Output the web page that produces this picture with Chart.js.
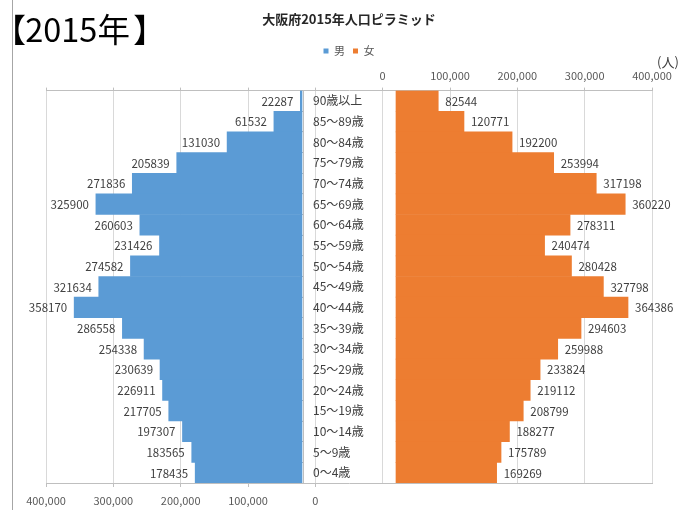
<!DOCTYPE html>
<html><head><meta charset="utf-8">
<script src="https://cdn.jsdelivr.net/npm/chart.js@4.4.0/dist/chart.umd.min.js"></script>
<style>
html,body{margin:0;padding:0;background:#fff;}
#wrap{position:relative;width:685px;height:510px;overflow:hidden;background:#fff;}
canvas{position:absolute;left:0;top:0;}
#frame{position:absolute;left:12px;top:0;width:1px;height:510px;background:#a6a6a6;}
#year{position:absolute;left:9px;top:8px;font-family:"Noto Sans CJK JP";font-size:32.5px;line-height:1.2;font-feature-settings:"palt";color:#000;white-space:nowrap;}
#year .close{margin-left:4px;}
#unit{position:absolute;left:657px;top:54px;font-family:"Noto Sans CJK JP";font-size:13px;line-height:1.2;color:#404040;white-space:nowrap;}
</style></head><body>
<div id="wrap">
<canvas id="c" width="685" height="510"></canvas>
<div id="frame"></div>
<div id="year">【2015年<span class="close">】</span></div>
<div id="unit">(人)</div>
</div>
<script>
// ---- data (top row first) ----
const categories = ['90歳以上','85～89歳','80～84歳','75～79歳','70～74歳','65～69歳','60～64歳','55～59歳','50～54歳','45～49歳','40～44歳','35～39歳','30～34歳','25～29歳','20～24歳','15～19歳','10～14歳','5～9歳','0～4歳'];
const male   = [22287, 61532, 131030, 205839, 271836, 325900, 260603, 231426, 274582, 321634, 358170, 286558, 254338, 230639, 226911, 217705, 197307, 183565, 178435];
const female = [82544, 120771, 192200, 253994, 317198, 360220, 278311, 240474, 280428, 327798, 364386, 294603, 259988, 233824, 219112, 208799, 188277, 175789, 169269];
const seriesNames = ['男', '女'];
const chartTitle = '大阪府2015年人口ピラミッド';
const axisTickValues = [0, 100000, 200000, 300000, 400000];

// ---- layout constants (not data) ----
const AXIS_MAX = 400000;   // each half of the pyramid
const GAP = 100000;        // width of the centre label column, in axis units
const BAND = 19800;        // part of each bar hidden behind the label column
const FONT = '"Noto Sans CJK JP", "Noto Sans", sans-serif';

Chart.defaults.font.family = FONT;
Chart.defaults.color = '#595959';

const fmt = v => v.toLocaleString('en-US');
const allTicks = s => {
  const vals = axisTickValues.map(v => -v).reverse().concat(axisTickValues.map(v => v + GAP));
  s.ticks = vals.map(v => ({ value: v }));
};

const valueLabels = {
  id: 'valueLabels',
  afterDatasetsDraw(chart) {
    const ctx = chart.ctx;
    const sets = [male, female];
    ctx.save();
    ctx.font = '11.5px ' + FONT;
    ctx.fillStyle = '#404040';
    ctx.textBaseline = 'middle';
    chart.data.datasets.forEach((ds, di) => {
      const meta = chart.getDatasetMeta(di);
      meta.data.forEach((bar, i) => {
        const isLeft = di === 0;
        ctx.textAlign = isLeft ? 'right' : 'left';
        ctx.fillText(String(sets[di][i]), bar.x + (isLeft ? -7 : 7), bar.y + 0.5);
      });
    });
    ctx.restore();
  }
};

new Chart(document.getElementById('c'), {
  type: 'bar',
  data: {
    labels: categories,
    datasets: [
      {
        label: seriesNames[0],
        data: male.map(v => [-BAND, -v]),
        backgroundColor: '#5B9BD5',
        borderWidth: 0,
        xAxisID: 'x', yAxisID: 'y'
      },
      {
        label: seriesNames[1],
        data: female.map(v => [GAP + BAND, GAP + v]),
        backgroundColor: '#ED7D31',
        borderWidth: 0,
        xAxisID: 'x', yAxisID: 'y'
      }
    ]
  },
  options: {
    indexAxis: 'y',
    responsive: false,
    animation: false,
    devicePixelRatio: 1,
    datasets: { bar: { grouped: false, barPercentage: 1, categoryPercentage: 1 } },
    layout: { padding: { left: 46, right: 33, top: 0, bottom: 0 } },
    plugins: {
      title: {
        display: true, text: chartTitle, color: '#262626',
        font: { size: 13, weight: 'bold', family: FONT },
        padding: { top: 11, bottom: 11 }
      },
      legend: {
        display: true, position: 'top',
        labels: { boxWidth: 5, boxHeight: 5, padding: 8, color: '#595959', font: { size: 11, family: FONT } }
      },
      tooltip: { enabled: false }
    },
    scales: {
      x: {
        type: 'linear', position: 'bottom',
        min: -AXIS_MAX, max: AXIS_MAX + GAP,
        afterBuildTicks: allTicks,
        afterFit: s => { s.height = 27; },
        ticks: {
          autoSkip: false, maxRotation: 0, padding: 7, color: '#595959', font: { size: 11 },
          callback: v => v <= 0 ? fmt(Math.abs(v)) : ''
        },
        grid: {
          color: '#d9d9d9', tickLength: 4,
          tickColor: c => (c.tick && c.tick.value <= 0) ? '#bfbfbf' : 'rgba(0,0,0,0)'
        },
        border: { color: '#bfbfbf' }
      },
      x2: {
        type: 'linear', position: 'top',
        min: -AXIS_MAX, max: AXIS_MAX + GAP,
        afterBuildTicks: allTicks,
        afterFit: s => { s.height = 24; },
        ticks: {
          autoSkip: false, maxRotation: 0, padding: 5, color: '#595959', font: { size: 11 },
          callback: v => v >= GAP ? fmt(v - GAP) : ''
        },
        grid: { drawOnChartArea: false, color: '#bfbfbf', tickLength: 3 },
        border: { color: '#bfbfbf' }
      },
      y: {
        type: 'category', position: 'left',
        grid: { display: false, drawTicks: false },
        border: { display: false },
        ticks: { mirror: true, padding: 267, color: '#404040', font: { size: 12 } },
        afterFit: s => { s.width = 0; s.paddingTop = 0; s.paddingBottom = 0; }
      },
      y2: {
        type: 'category', position: { x: -BAND + 2300 },
        grid: { drawOnChartArea: false, offset: true, tickLength: 3, color: '#bfbfbf' },
        border: { display: true, color: '#bfbfbf' },
        ticks: { display: false }
      }
    }
  },
  plugins: [valueLabels]
});
</script>
</body></html>
